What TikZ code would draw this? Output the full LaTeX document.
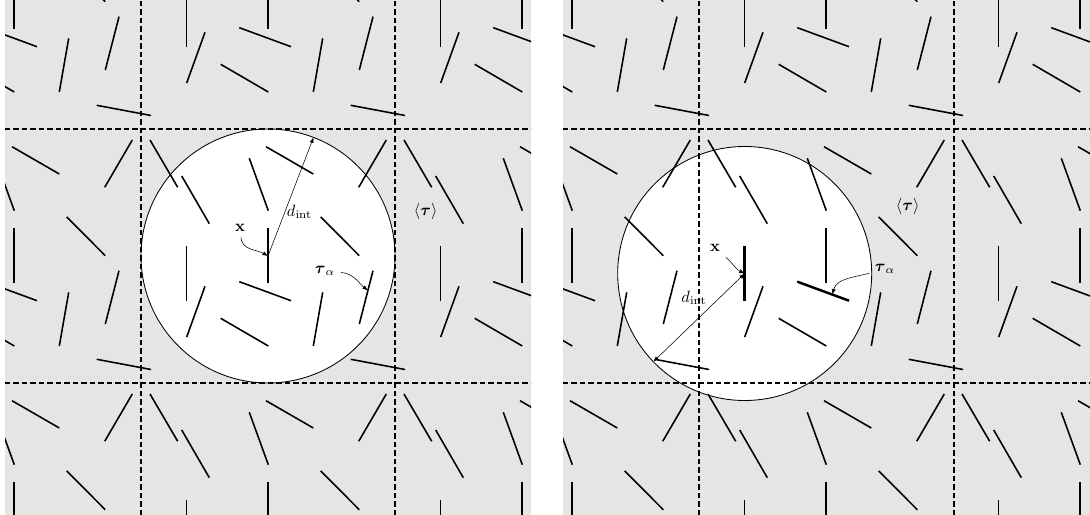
\documentclass[tikz,border=0pt]{standalone}
\usepackage{amsmath, amssymb}
\usetikzlibrary{arrows.meta}

% segmenti di una cella (origine nell'angolo in basso a sinistra)
\newcommand{\cellasegmenti}{%
  \foreach \xa/\ya/\xb/\yb in {9/243/36.7/195.7, 40.7/207/68.3/159.3, 108.3/224.7/127.3/172.3,
      125/236.3/172.3/209, 217.7/195.7/245.3/243, 127/154.5/127/99.5, 179.7/166/218.3/127.3,
      45.7/137/45.7/82, 64/96.7/45.7/46, 98.3/101.3/150/82.3, 79.7/64.7/127.3/37,
      181.7/90.7/172.3/37, 232/112.3/218.3/59, 209.7/23.7/264/13.5}
    \draw[bastone] (\xa,\ya) -- (\xb,\yb);%
}

\begin{document}
\begin{tikzpicture}[x=0.029cm, y=0.029cm,
    every node/.style={scale=1.35},
    bastone/.style={line width=1.3pt},
    bastonegrosso/.style={line width=2pt},
    griglia/.style={line width=1pt, dash pattern=on 4.5pt off 2.5pt},
    freccia/.style={-{Latex[length=1.6mm]}, line width=0.45pt},
    doppia/.style={{Latex[length=1.6mm]}-{Latex[length=1.6mm]}, line width=0.45pt}]
  \useasboundingbox (0,0) rectangle (1090,515);

  % pannello sinistro
  \begin{scope}
    \clip (5,0) rectangle (531,515);
    \fill[black!10] (5,0) rectangle (531,515);
    \coordinate (xL) at (268,259);
    \draw[fill=white, line width=0.7pt] (xL) circle[radius=127];
    \foreach \i in {-1,0,1}
      \foreach \j in {-1,0,1} {
        \begin{scope}[shift={({141+254*\i},{132+254*\j})}]
          \cellasegmenti
        \end{scope}
      }

    % etichette
    \node (labxL) at (240,287) {$\mathbf{x}$};
    \path (xL) ++(69:127) coordinate (rimL);
    \draw[freccia] (xL) -- (rimL);
    \node (labdL) at (299.5,303) {$d_{\mathrm{int}}$};
    \draw[freccia] (labxL) to[out=-85, in=150] (xL);
    \node (labtauL) at (325,244) {$\boldsymbol{\tau}_\alpha$};
    \coordinate (tauL) at (367.9,224.4);
    \draw[freccia] (labtauL) to[out=-5, in=140] (tauL);
    \node (mediaL) at (425.7,304) {$\langle\boldsymbol{\tau}\rangle$};

    % griglia
    \draw[griglia] (141,0) -- (141,515) (395,0) -- (395,515)
      (5,132) -- (531,132) (5,386) -- (531,386);
  \end{scope}

  % pannello destro
  \begin{scope}
    \clip (563,0) rectangle (1090,515);
    \fill[black!10] (563,0) rectangle (1090,515);
    \coordinate (xR) at (744.7,241.5);
    \draw[fill=white, line width=0.7pt] (xR) circle[radius=127];
    \foreach \i in {-1,0,1}
      \foreach \j in {-1,0,1} {
        \begin{scope}[shift={({699+254*\i},{132+254*\j})}]
          \cellasegmenti
        \end{scope}
      }
    \draw[bastonegrosso] (744.7,269) -- (744.7,214);
    \draw[bastonegrosso] (797.3,233.3) -- (849,214.3);

    % etichette
    \node (labxR) at (715,266.7) {$\mathbf{x}$};
    \path (xR) ++(224:127) coordinate (rimR);
    \draw[doppia] (rimR) -- (xR);
    \node (labdR) at (694,217.3) {$d_{\mathrm{int}}$};
    \draw[freccia] (labxR) to[out=-40, in=155] (xR);
    \node (labtauR) at (885,246) {$\boldsymbol{\tau}_\alpha$};
    \coordinate (tauR) at (832.3,220.4);
    \draw[freccia] (labtauR) to[out=195, in=75] (tauR);
    \node (mediaR) at (907.7,308.3) {$\langle\boldsymbol{\tau}\rangle$};

    % griglia
    \draw[griglia] (699,0) -- (699,515) (954,0) -- (954,515)
      (563,132) -- (1090,132) (563,386) -- (1090,386);
  \end{scope}
\end{tikzpicture}
\end{document}
